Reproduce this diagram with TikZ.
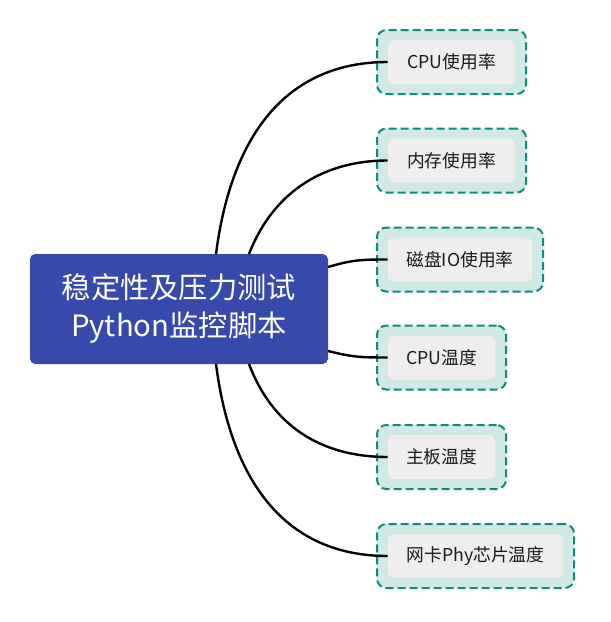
\documentclass[tikz,border=0pt]{standalone}
\usepackage{fontspec}
\setmainfont{Noto Sans CJK SC}
\definecolor{rootblue}{HTML}{3749AB}
\definecolor{outerfill}{HTML}{CFE9E6}
\definecolor{outerline}{HTML}{108A78}
\definecolor{innerfill}{HTML}{EEEEEE}
\definecolor{txt}{HTML}{1A1A1A}
\begin{document}
\begin{tikzpicture}[x=0.75pt,y=-0.75pt,
  root/.style={fill=rootblue,rounded corners=4pt,inner sep=0pt,minimum width=223.5pt,minimum height=82.5pt,text=white,align=center,font=\fontsize{22}{28.5}\selectfont},
  outerbox/.style={fill=outerfill,draw=outerline,line width=1.5pt,dash pattern=on 6pt off 3pt,rounded corners=7pt,minimum height=48pt,inner sep=0pt},
  leafbox/.style={fill=innerfill,rounded corners=4.5pt,minimum height=33pt,inner sep=0pt,text=txt,font=\fontsize{13.3}{16}\selectfont},
  link/.style={line width=1.8pt,black}]
\useasboundingbox (0,0) rectangle (611,622);
\node[root] (c) at (179,309) {稳定性及压力测试\\Python监控脚本};

\node[outerbox,minimum width=111.75pt] (o1) at (451.5,62) {};
\node[leafbox,minimum width=95.25pt] (l1) at (451.5,62) {CPU使用率};
\node[outerbox,minimum width=111.75pt] (o2) at (451.5,160.5) {};
\node[leafbox,minimum width=95.25pt] (l2) at (451.5,160.5) {内存使用率};
\node[outerbox,minimum width=124.5pt] (o3) at (460,259.5) {};
\node[leafbox,minimum width=108pt] (l3) at (460,259.5) {磁盘IO使用率};
\node[outerbox,minimum width=96.75pt] (o4) at (441.5,357.5) {};
\node[leafbox,minimum width=80.25pt] (l4) at (441.5,357.5) {CPU温度};
\node[outerbox,minimum width=96.75pt] (o5) at (441.5,457) {};
\node[leafbox,minimum width=80.25pt] (l5) at (441.5,457) {主板温度};
\node[outerbox,minimum width=147.75pt] (o6) at (475.5,556) {};
\node[leafbox,minimum width=131.25pt] (l6) at (475.5,556) {网卡Phy芯片温度};

\coordinate (s1) at (216,254);
\coordinate (s2) at (249,254);
\coordinate (s3) at (328,267);
\coordinate (s4) at (328,351);
\coordinate (s5) at (249,364);
\coordinate (s6) at (216,364);

\draw[link] (s1) .. controls (232,130) and (290,62) .. (l1.west);
\draw[link] (s2) .. controls (272,195) and (320,160.5) .. (l2.west);
\draw[link] (s3) .. controls (352,260) and (360,259.5) .. (l3.west);
\draw[link] (s4) .. controls (352,357) and (360,357.5) .. (l4.west);
\draw[link] (s5) .. controls (272,425) and (320,457) .. (l5.west);
\draw[link] (s6) .. controls (232,488) and (290,556) .. (l6.west);
\end{tikzpicture}
\end{document}
